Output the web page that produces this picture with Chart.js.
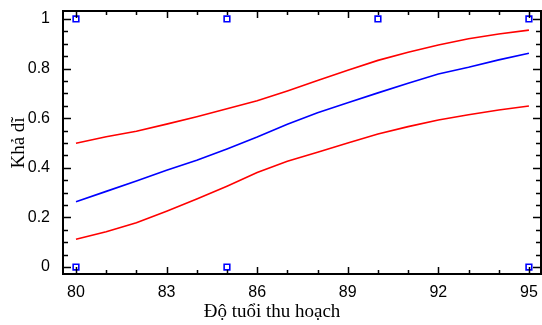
<!DOCTYPE html>
<html>
<head>
<meta charset="utf-8">
<script src="https://cdn.jsdelivr.net/npm/chart.js@4/dist/chart.umd.min.js"></script>
<style>
  html, body { margin: 0; padding: 0; background: #ffffff; }
  #wrap { width: 542px; height: 325px; }
</style>
</head>
<body>
<div id="wrap"><canvas id="chart" width="542" height="325"></canvas></div>
<script>
"use strict";

// data
const ages = [80, 81, 82, 83, 84, 85, 86, 87, 88, 89, 90, 91, 92, 93, 94, 95];
const fitted = [0.263, 0.305, 0.347, 0.39, 0.43, 0.476, 0.524, 0.576, 0.622, 0.662, 0.702, 0.741, 0.778, 0.805, 0.835, 0.862];
const upperBand = [0.499, 0.525, 0.547, 0.576, 0.606, 0.638, 0.67, 0.71, 0.752, 0.793, 0.833, 0.866, 0.895, 0.92, 0.939, 0.955];
const lowerBand = [0.112, 0.142, 0.179, 0.225, 0.274, 0.326, 0.381, 0.426, 0.463, 0.5, 0.536, 0.566, 0.593, 0.614, 0.633, 0.649];

const obsAges = [80, 85, 90, 95, 80, 85, 95];
const obsValues = [1, 1, 1, 1, 0, 0, 0];

const xTicks = [80, 83, 86, 89, 92, 95];
const yTicks = [0, 0.2, 0.4, 0.6, 0.8, 1];

const xTitle = "Độ tuổi thu hoạch";
const yTitle = "Khả dĩ";

const toPoints = (xs, ys) => xs.map((x, i) => ({ x: x, y: ys[i] }));

// frame with inward ticks on all four sides, plus axis titles
const framePlugin = {
  id: "frame",
  afterDraw(chart) {
    const ctx = chart.ctx;
    const area = chart.chartArea;
    const xs = chart.scales.x;
    const ys = chart.scales.y;

    ctx.save();
    ctx.strokeStyle = "#000000";
    ctx.lineWidth = 2;
    ctx.strokeRect(area.left, area.top, area.right - area.left, area.bottom - area.top);

    ctx.lineWidth = 1.5;
    ctx.beginPath();
    for (let v = 80; v <= 95; v++) {
      const px = Math.round(xs.getPixelForValue(v)) + 0.5;
      const len = xTicks.includes(v) ? 7 : 4;
      ctx.moveTo(px, area.bottom);
      ctx.lineTo(px, area.bottom - len);
      ctx.moveTo(px, area.top);
      ctx.lineTo(px, area.top + len);
    }
    for (let i = 0; i <= 20; i++) {
      const v = i / 20;
      const py = Math.round(ys.getPixelForValue(v)) + 0.5;
      const len = i % 4 === 0 ? 8 : 5;
      ctx.moveTo(area.left, py);
      ctx.lineTo(area.left + len, py);
      ctx.moveTo(area.right, py);
      ctx.lineTo(area.right - len, py);
    }
    ctx.stroke();

    ctx.fillStyle = "#000000";
    ctx.font = "19px 'Liberation Serif', 'Times New Roman', serif";
    ctx.textAlign = "center";
    ctx.textBaseline = "middle";
    ctx.fillText(xTitle, 272, 312);

    ctx.translate(19, 143);
    ctx.rotate(-Math.PI / 2);
    ctx.fillText(yTitle, 0, 0);
    ctx.restore();
  },
};

new Chart(document.getElementById("chart").getContext("2d"), {
  type: "scatter",
  data: {
    datasets: [
      {
        label: "upper",
        data: toPoints(ages, upperBand),
        showLine: true,
        borderColor: "#ff0000",
        borderWidth: 1.6,
        pointRadius: 0,
        tension: 0,
      },
      {
        label: "fitted",
        data: toPoints(ages, fitted),
        showLine: true,
        borderColor: "#0000ff",
        borderWidth: 1.6,
        pointRadius: 0,
        tension: 0,
      },
      {
        label: "lower",
        data: toPoints(ages, lowerBand),
        showLine: true,
        borderColor: "#ff0000",
        borderWidth: 1.6,
        pointRadius: 0,
        tension: 0,
      },
      {
        label: "observed",
        data: toPoints(obsAges, obsValues),
        pointStyle: "rect",
        pointRadius: 4,
        borderColor: "#0000ff",
        backgroundColor: "#ffffff",
        borderWidth: 1.6,
      },
    ],
  },
  options: {
    responsive: false,
    animation: false,
    devicePixelRatio: 1,
    layout: { autoPadding: false, padding: { top: 11, right: 1, left: 0, bottom: 0 } },
    plugins: {
      legend: { display: false },
      tooltip: { enabled: false },
    },
    scales: {
      x: {
        type: "linear",
        min: 79.57,
        max: 95.4,
        afterBuildTicks: (scale) => {
          scale.ticks = xTicks.map((v) => ({ value: v }));
        },
        afterFit: (scale) => {
          scale.height = 51;
          scale.paddingLeft = 0;
          scale.paddingRight = 0;
        },
        grid: { display: false, drawTicks: false },
        border: { display: false },
        ticks: {
          padding: 9,
          color: "#000000",
          font: { family: "'Liberation Sans', Arial, sans-serif", size: 16 },
          maxRotation: 0,
          callback: (v) => String(v),
        },
      },
      y: {
        type: "linear",
        min: -0.028,
        max: 1.032,
        afterBuildTicks: (scale) => {
          scale.ticks = yTicks.map((v) => ({ value: v }));
        },
        afterFit: (scale) => {
          scale.width = 63;
          scale.paddingTop = 0;
          scale.paddingBottom = 0;
        },
        grid: { display: false, drawTicks: false },
        border: { display: false },
        ticks: {
          padding: 13,
          color: "#000000",
          font: { family: "'Liberation Sans', Arial, sans-serif", size: 16 },
          callback: (v) => String(v),
        },
      },
    },
  },
  plugins: [framePlugin],
});
</script>
</body>
</html>
